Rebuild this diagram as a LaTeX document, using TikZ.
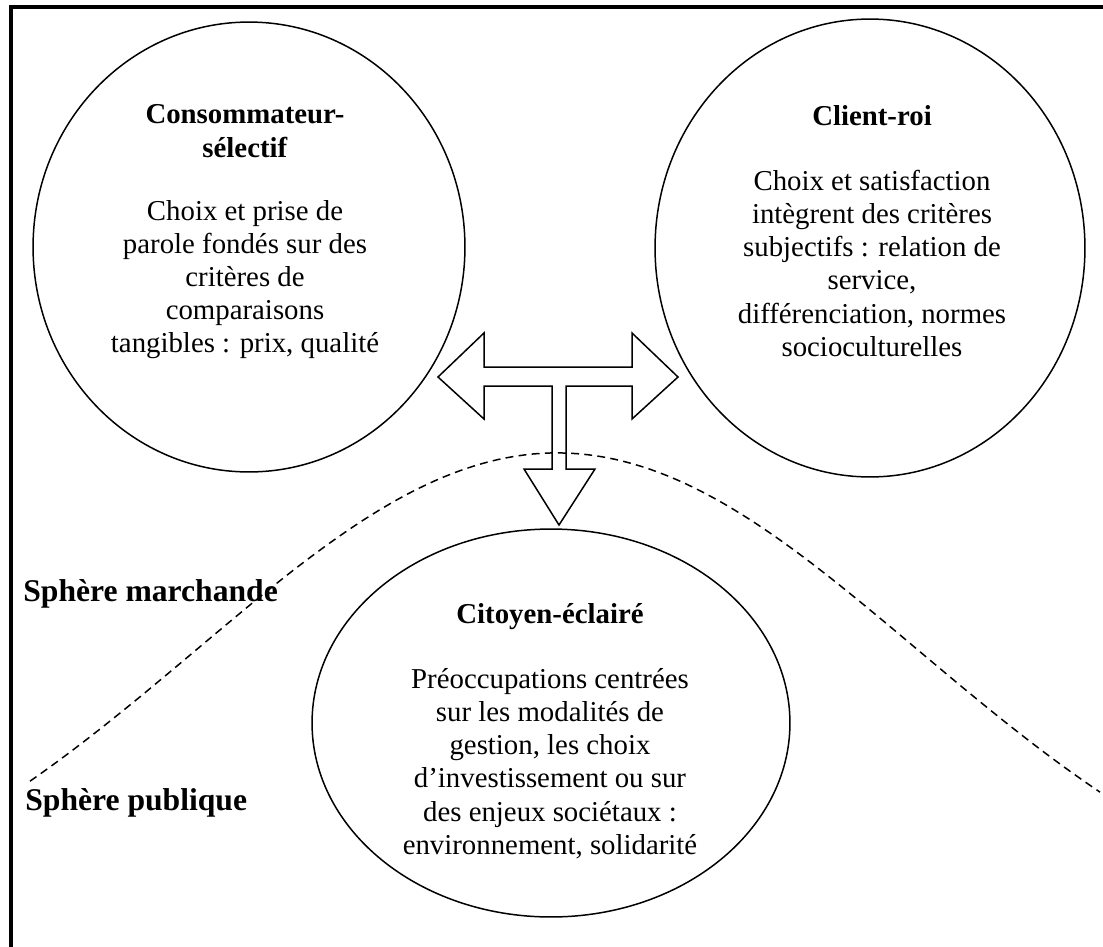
\documentclass[tikz,border=0pt]{standalone}
\usepackage{fontspec}
\setmainfont{Liberation Serif}
\usetikzlibrary{shapes.geometric}

\tikzset{
  bulle/.style={draw, ellipse, line width=0.85pt, inner sep=0pt, outer sep=0pt},
  texte/.style={align=center, inner sep=0pt, font=\fontsize{16.4pt}{18.9pt}\selectfont},
  sphere/.style={anchor=west, inner sep=0pt, font=\fontsize{18pt}{21pt}\selectfont\bfseries}
}

\begin{document}
\begin{tikzpicture}[x=0.02cm, y=-0.02cm]
\useasboundingbox (0,0) rectangle (1103,947);
\draw [line width=2.2pt] (11,947) -- (11,7) -- (1103,7);

\draw [dashed, dash pattern=on 4.5pt off 3pt, line width=0.85pt, domain=30:1100, samples=120]
  plot (\x, {453 + 500*(1-exp(-((\x-557)/100)^2/26))});

\node[bulle, minimum width=8.64cm, minimum height=9cm] (conso) at (249,247) {};
\node[bulle, minimum width=8.6cm, minimum height=9.16cm] (client) at (870,248) {};
\node[bulle, minimum width=9.56cm, minimum height=7.76cm] (citoyen) at (551,723) {};

\node[texte] (conso-txt) at (245,232) {\textbf{Consommateur-}\\ \textbf{sélectif}\\[17pt]
  Choix et prise de\\ parole fondés sur des\\ critères de\\ comparaisons\\ tangibles : prix, qualité};
\node[texte] (client-txt) at (872,231) {\textbf{Client-roi}\\[18pt]
  Choix et satisfaction\\ intègrent des critères\\ subjectifs : relation de\\ service,\\
  différenciation, normes\\ socioculturelles};
\node[texte] (citoyen-txt) at (550,731) {\textbf{Citoyen-éclairé}\\[18pt]
  Préoccupations centrées\\ sur les modalités de\\ gestion, les choix\\
  d’investissement ou sur\\ des enjeux sociétaux :\\ environnement, solidarité};

\node[sphere] (marchande) at (23,594) {Sphère marchande};
\node[sphere] (publique) at (25,803) {Sphère publique};

\draw [line width=0.85pt] (438,377) -- (484,333) -- (484,367) -- (632,367) -- (632,333)
  -- (678,377) -- (632,419) -- (632,386) -- (566,386) -- (566,469) -- (595,469)
  -- (559,525) -- (524,469) -- (552,469) -- (552,386) -- (484,386) -- (484,419) -- cycle;
\end{tikzpicture}
\end{document}
